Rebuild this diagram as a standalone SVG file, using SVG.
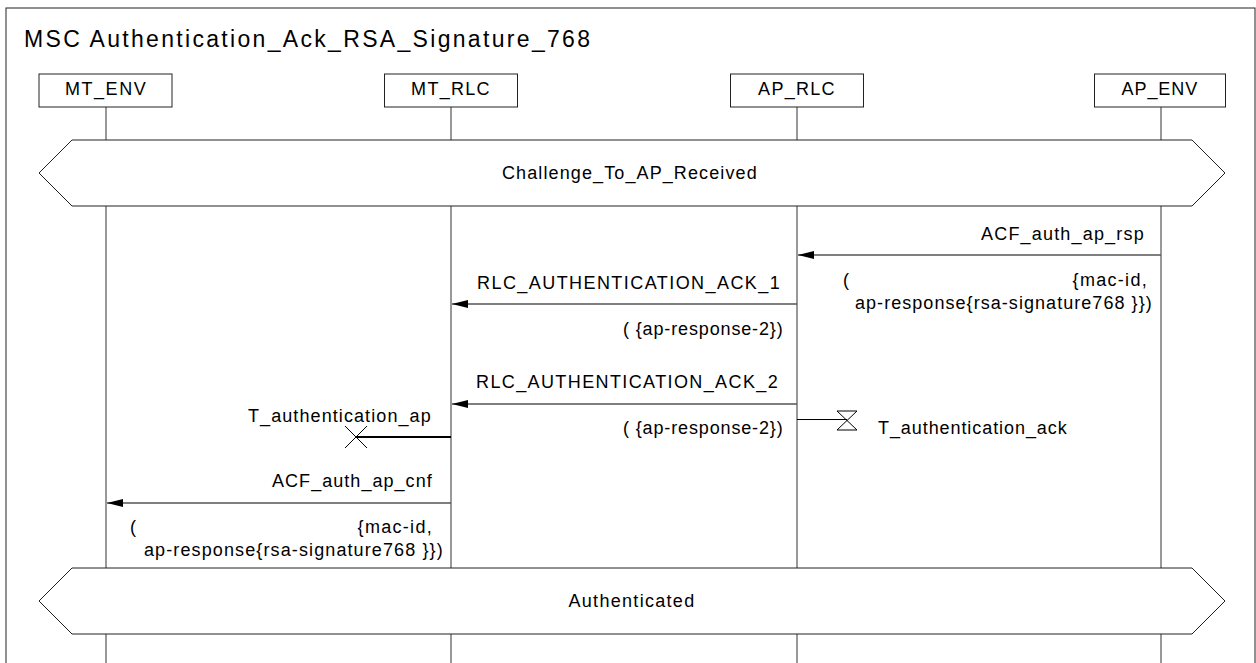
<svg xmlns="http://www.w3.org/2000/svg" width="1256" height="663" viewBox="0 0 1256 663">
<defs>
<marker id="ah" markerWidth="16" markerHeight="8" refX="16" refY="4" orient="auto" markerUnits="userSpaceOnUse">
<path d="M0,0 L16,4 L0,8 Z" fill="#000"/>
</marker>
<style>
text{font-family:"Liberation Sans",Arial,sans-serif;fill:#000}
.t{font-size:18px;letter-spacing:1.3px}
.title{font-size:23px}
.mid{text-anchor:middle}
.end{text-anchor:end}
.box{fill:#fff;stroke:#222;stroke-width:1}
.life{stroke:#333;stroke-width:1;fill:none}
.msg{stroke:#555;stroke-width:1.3;fill:none}
.cond{fill:#fff;stroke:#222;stroke-width:1}
</style>
</defs>
<rect width="1256" height="663" fill="#fff"/>
<rect x="6" y="8" width="1249" height="670" fill="none" stroke="#222" stroke-width="1"/>
<text class="title" x="24" y="47" textLength="566" lengthAdjust="spacing">MSC Authentication_Ack_RSA_Signature_768</text>

<g id="lifelines">
<line class="life" x1="106" y1="107" x2="106" y2="663"/>
<line class="life" x1="451" y1="107" x2="451" y2="663"/>
<line class="life" x1="797" y1="107" x2="797" y2="663"/>
<line class="life" x1="1161" y1="107" x2="1161" y2="663"/>
</g>

<g id="MT_ENV">
<rect class="box" x="39" y="74" width="133" height="33"/>
<text class="t mid" x="106" y="95" textLength="82" lengthAdjust="spacing">MT_ENV</text>
</g>
<g id="MT_RLC">
<rect class="box" x="384.5" y="74" width="133" height="33"/>
<text class="t mid" x="451" y="95">MT_RLC</text>
</g>
<g id="AP_RLC">
<rect class="box" x="730.5" y="74" width="133" height="33"/>
<text class="t mid" x="797" y="95">AP_RLC</text>
</g>
<g id="AP_ENV">
<rect class="box" x="1094.5" y="74" width="131" height="33"/>
<text class="t mid" x="1160" y="95" textLength="77" lengthAdjust="spacing">AP_ENV</text>
</g>

<g id="cond_challenge">
<polygon class="cond" points="39,173 72,140 1192,140 1225,173 1192,206 72,206"/>
<text class="t mid" x="630" y="179" textLength="256" lengthAdjust="spacing">Challenge_To_AP_Received</text>
</g>

<g id="connectors">
<line class="msg" x1="1161" y1="255" x2="798" y2="255" marker-end="url(#ah)"/>
<line class="msg" x1="797" y1="304" x2="452" y2="304" marker-end="url(#ah)"/>
<line class="msg" x1="797" y1="404" x2="452" y2="404" marker-end="url(#ah)"/>
<line class="msg" x1="451" y1="503" x2="107" y2="503" marker-end="url(#ah)"/>
</g>

<g id="msg_rsp">
<text class="t end" x="1145" y="240" textLength="164" lengthAdjust="spacing">ACF_auth_ap_rsp</text>
<text class="t" x="843" y="286">(</text>
<text class="t end" x="1148" y="286">{mac-id,</text>
<text class="t end" x="1153" y="309" textLength="298" lengthAdjust="spacing">ap-response{rsa-signature768 }})</text>
</g>

<g id="msg_ack1">
<text class="t end" x="781" y="289" textLength="304" lengthAdjust="spacing">RLC_AUTHENTICATION_ACK_1</text>
<text class="t end" x="784" y="335" textLength="161" lengthAdjust="spacing">( {ap-response-2})</text>
</g>

<g id="msg_ack2">
<text class="t end" x="779" y="388" textLength="303" lengthAdjust="spacing">RLC_AUTHENTICATION_ACK_2</text>
<text class="t end" x="784" y="434" textLength="161" lengthAdjust="spacing">( {ap-response-2})</text>
</g>

<g id="timer_ap">
<line x1="451" y1="437" x2="356" y2="437" stroke="#000" stroke-width="2"/>
<path d="M345,426 L367,448 M367,426 L345,448" stroke="#000" stroke-width="1" fill="none"/>
<text class="t end" x="432" y="422" textLength="184" lengthAdjust="spacing">T_authentication_ap</text>
</g>

<g id="timer_ack">
<line x1="797" y1="419.5" x2="847" y2="419.5" stroke="#000" stroke-width="1"/>
<path d="M837,411 L857,411 L837,430 L857,430 Z" stroke="#000" stroke-width="1" fill="none"/>
<text class="t" x="878" y="434" textLength="190" lengthAdjust="spacing">T_authentication_ack</text>
</g>

<g id="msg_cnf">
<text class="t end" x="433" y="487" textLength="161" lengthAdjust="spacing">ACF_auth_ap_cnf</text>
<text class="t" x="130" y="533">(</text>
<text class="t end" x="433" y="533">{mac-id,</text>
<text class="t end" x="444" y="556" textLength="300" lengthAdjust="spacing">ap-response{rsa-signature768 }})</text>
</g>

<g id="cond_authenticated">
<polygon class="cond" points="39,601 72,568 1192,568 1225,601 1192,634 72,634"/>
<text class="t mid" x="632" y="607">Authenticated</text>
</g>
</svg>
